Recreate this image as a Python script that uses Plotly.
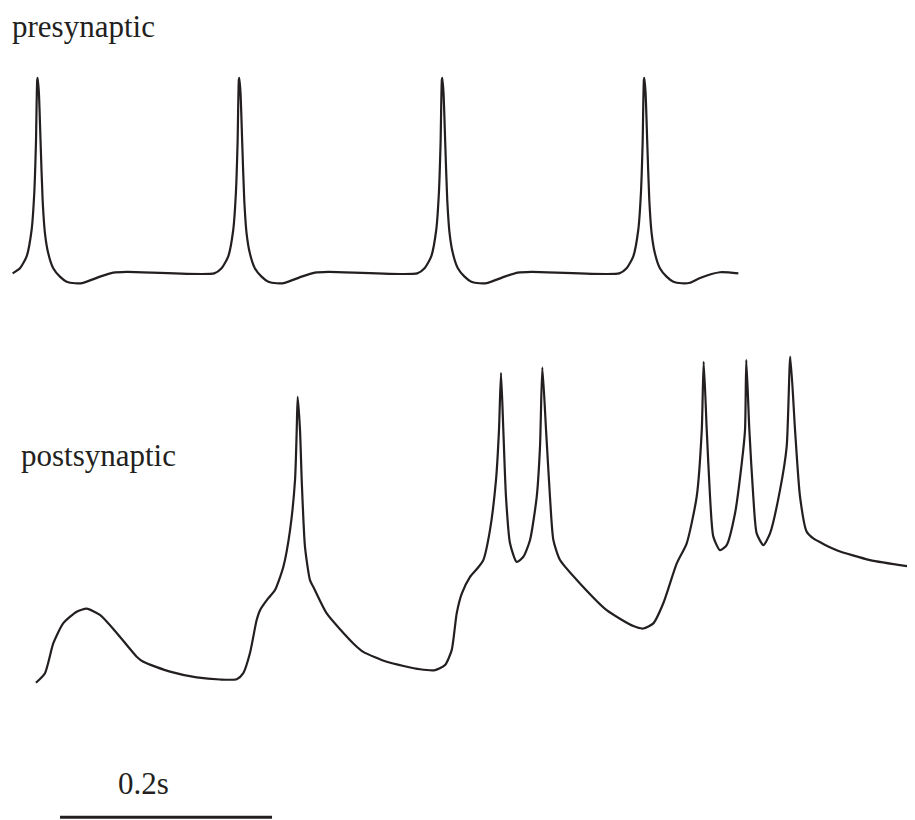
import plotly.graph_objects as go

# presynaptic trace: time (ms), membrane potential (mV)
pre_time = [0.6, 7.5, 13.8, 18.5, 21.0, 22.6, 23.8, 24.2, 25.4, 27.0, 28.9, 31.1, 34.2, 38.9, 45.2, 51.6, 59.4, 67.2, 83.0, 95.5, 108.2,
            190.8, 197.7, 204.0, 208.7, 211.2, 212.8, 214.0, 214.4, 215.6, 217.2, 219.1, 221.3, 224.4, 229.1, 235.4, 241.8, 249.6, 257.4, 273.2, 285.7, 298.4,
            382.3, 389.2, 395.5, 400.2, 402.7, 404.3, 405.5, 405.9, 407.1, 408.7, 410.6, 412.8, 415.9, 420.6, 426.9, 433.3, 441.1, 448.9, 464.7, 477.2, 489.9,
            572.9, 579.8, 586.1, 590.8, 593.3, 594.9, 596.1, 596.5, 597.7, 599.3, 601.2, 603.4, 606.5, 611.2, 617.5, 623.9, 631.7, 639.5, 649.1, 667.9, 685.2]
pre_mv = [-60.6, -58.3, -52.9, -40.9, -24.2, -1.5, 27.3, 28.2, 21.2, -1.5, -27.3, -42.4, -51.5, -58.3, -62.1, -64.4, -65.1, -64.9, -62.1, -60.3, -59.9,
          -60.6, -58.3, -52.9, -40.9, -24.2, -1.5, 27.3, 28.2, 21.2, -1.5, -27.3, -42.4, -51.5, -58.3, -62.1, -64.4, -65.1, -64.9, -62.1, -60.3, -59.9,
          -60.6, -58.3, -52.9, -40.9, -24.2, -1.5, 27.3, 28.2, 21.2, -1.5, -27.3, -42.4, -51.5, -58.3, -62.1, -64.4, -65.1, -64.9, -62.1, -60.3, -59.9,
          -60.6, -58.3, -52.9, -40.9, -24.2, -1.5, 27.3, 28.2, 21.2, -1.5, -27.3, -42.4, -51.5, -58.3, -62.1, -64.4, -65.1, -64.9, -62.7, -60.1, -60.6]

# postsynaptic trace
post_time = [22.6, 31.1, 39.0, 48.4, 61.0, 70.5, 83.0, 98.8, 117.6, 123.9, 149.1, 174.2, 196.2, 212.0,
             218.2, 224.5, 230.8, 234.0, 241.8, 248.1, 256.0, 262.3, 267.0, 268.6, 269.5, 271.7, 273.3, 276.4, 281.1, 284.2,
             296.9, 322.0, 331.4, 353.5, 384.9, 399.1, 408.5, 414.8, 419.5, 424.2, 432.1, 439.9, 444.6, 450.9, 456.6, 459.4,
             461.3, 463.5, 466.0, 469.8, 476.1, 482.4, 488.7, 495.0, 498.1, 500.3, 503.8, 507.5, 510.7, 517.0,
             535.8, 561.0, 586.1, 595.6, 605.0, 614.4, 627.1, 636.5, 645.9, 650.7, 652.5, 655.4, 658.5, 661.6,
             667.9, 674.2, 682.1, 688.4, 691.5, 692.7, 695.6, 699.3, 702.5, 708.8, 715.1, 724.5, 730.8, 734.2,
             738.7, 743.4, 749.7, 755.9, 778.0, 809.4, 851.9]
post_mv = [-70.9, -67.7, -57.7, -51.0, -47.2, -46.2, -48.3, -54.3, -62.2, -63.9, -67.2, -69.1, -69.8, -69.7,
           -67.7, -61.0, -50.0, -46.7, -42.7, -40.0, -32.2, -20.0, -3.3, 13.3, 24.4, 13.3, -3.3, -25.6, -36.7, -38.9,
           -47.8, -57.8, -60.6, -63.9, -66.4, -66.7, -65.0, -60.0, -47.8, -41.3, -35.6, -32.4, -30.0, -20.0, -3.3, 13.3,
           32.4, 13.3, -8.9, -24.4, -30.6, -28.9, -23.3, -8.9, 7.8, 34.2, 13.3, -8.9, -23.3, -30.0,
           -37.8, -46.7, -52.0, -52.8, -51.1, -44.4, -31.1, -24.4, -8.9, 13.3, 36.1, 13.3, -8.9, -22.2,
           -26.7, -25.0, -14.4, 2.2, 13.3, 36.7, 13.3, -8.9, -21.1, -25.0, -21.1, -6.7, 7.8, 37.8,
           13.3, -8.9, -20.6, -22.8, -26.7, -30.0, -32.4]

# 0.2 s scale bar
bar_time = [45.3, 245.3]
bar_mv = [-115.7, -115.7]

ink = "#231f20"
fig = go.Figure()
fig.add_trace(go.Scatter(x=pre_time, y=pre_mv, mode="lines", yaxis="y",
                         line=dict(color=ink, width=2.2, shape="spline", smoothing=0.6)))
fig.add_trace(go.Scatter(x=post_time, y=post_mv, mode="lines", yaxis="y2",
                         line=dict(color=ink, width=2.2, shape="spline", smoothing=0.6)))
fig.add_trace(go.Scatter(x=bar_time, y=bar_mv, mode="lines", yaxis="y2",
                         line=dict(color=ink, width=3)))

# the page body adds 8px, so labels sit 8px up-left of where they show
font = dict(family="Liberation Serif, Times New Roman, serif", size=31, color=ink)
fig.add_annotation(text="presynaptic", xref="paper", yref="paper", x=3/915, y=1,
                   xanchor="left", yanchor="top", borderpad=0, showarrow=False, font=font)
fig.add_annotation(text="postsynaptic", xref="paper", yref="paper", x=11/915, y=1-447/820,
                   xanchor="left", yanchor="middle", showarrow=False, font=font)
fig.add_annotation(text="0.2s", xref="paper", yref="paper", x=108/915, y=1-775/820,
                   xanchor="left", yanchor="middle", showarrow=False, font=font)

fig.update_layout(
    width=915, height=820, margin=dict(l=0, r=0, t=0, b=0),
    paper_bgcolor="white", plot_bgcolor="white", showlegend=False,
    xaxis=dict(range=[-3.77, 859.4], visible=False),
    yaxis=dict(range=[-312.7, 60.0], visible=False),
    yaxis2=dict(range=[-119.3, 154.0], visible=False, overlaying="y"),
)
fig.write_html("out.html")
